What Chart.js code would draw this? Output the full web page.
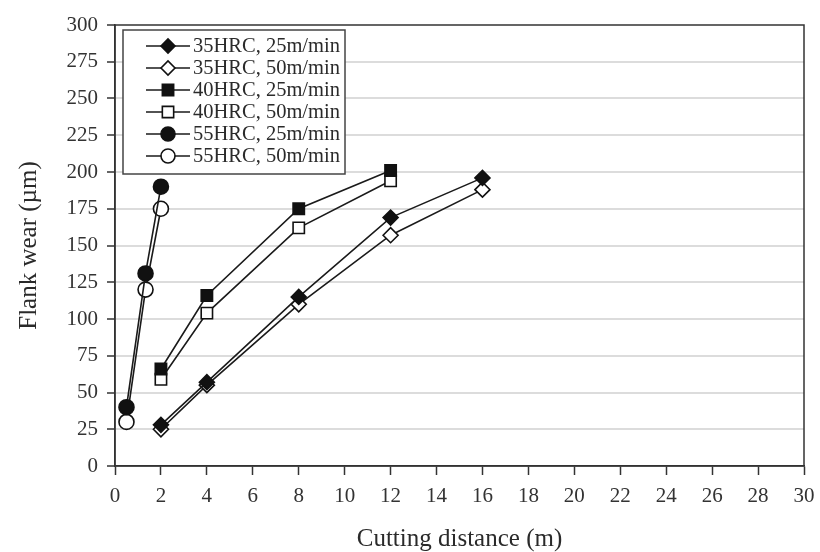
<!DOCTYPE html>
<html>
<head>
<meta charset="utf-8">
<script src="https://cdn.jsdelivr.net/npm/chart.js@4"></script>
<style>
  html, body { margin: 0; padding: 0; background: #fff; }
  #wrap { width: 820px; height: 552px; }
</style>
</head>
<body>
<div id="wrap"><canvas id="wearChart" width="820" height="552"></canvas></div>
<script>
// cutting distance (m) and flank wear (µm) per hardness
const dist35 = [2, 4, 8, 12, 16];
const wear35_25 = [28, 57, 115, 169, 196];
const wear35_50 = [25, 55, 110, 157, 188];

const dist40 = [2, 4, 8, 12];
const wear40_25 = [66, 116, 175, 201];
const wear40_50 = [59, 104, 162, 194];

const dist55 = [0.5, 1.33, 2];
const wear55_25 = [40, 131, 190];
const wear55_50 = [30, 120, 175];

const seriesLabels = [
  '35HRC, 25m/min', '35HRC, 50m/min',
  '40HRC, 25m/min', '40HRC, 50m/min',
  '55HRC, 25m/min', '55HRC, 50m/min'
];

const xTicks = [0, 2, 4, 6, 8, 10, 12, 14, 16, 18, 20, 22, 24, 26, 28, 30];
const yTicks = [0, 25, 50, 75, 100, 125, 150, 175, 200, 225, 250, 275, 300];

const serif = '"Liberation Serif", "DejaVu Serif", serif';

function pts(xs, ys) {
  return xs.map((x, i) => ({ x: x, y: ys[i] }));
}

function series(label, xs, ys, style, filled) {
  const size = style === 'rect' ? 8 : 7.5;
  return {
    label: label,
    data: pts(xs, ys),
    borderColor: '#1a1a1a',
    borderWidth: 1.6,
    pointStyle: style,
    pointRadius: size,
    pointBackgroundColor: filled ? '#111' : '#fff',
    pointBorderColor: '#111',
    pointBorderWidth: 1.6,
    fill: false,
    tension: 0
  };
}

const datasets = [
  series(seriesLabels[0], dist35, wear35_25, 'rectRot', true),
  series(seriesLabels[1], dist35, wear35_50, 'rectRot', false),
  series(seriesLabels[2], dist40, wear40_25, 'rect', true),
  series(seriesLabels[3], dist40, wear40_50, 'rect', false),
  series(seriesLabels[4], dist55, wear55_25, 'circle', true),
  series(seriesLabels[5], dist55, wear55_50, 'circle', false)
];

// frame round the plot and the boxed legend in the upper left
const framePlugin = {
  id: 'frame',
  afterDraw(chart) {
    const ctx = chart.ctx;
    const a = chart.chartArea;
    ctx.save();
    ctx.strokeStyle = '#333';
    ctx.lineWidth = 1.5;
    ctx.strokeRect(a.left, a.top, a.right - a.left, a.bottom - a.top);

    // legend
    const bx = 123, by = 30, bw = 222, bh = 144;
    ctx.fillStyle = '#fff';
    ctx.fillRect(bx, by, bw, bh);
    ctx.strokeStyle = '#444';
    ctx.lineWidth = 1.5;
    ctx.strokeRect(bx, by, bw, bh);
    ctx.font = '20.5px ' + serif;
    ctx.textBaseline = 'middle';
    chart.data.datasets.forEach((ds, i) => {
      const y = 46 + i * 22;
      ctx.strokeStyle = ds.borderColor;
      ctx.lineWidth = 1.6;
      ctx.beginPath();
      ctx.moveTo(146, y);
      ctx.lineTo(190, y);
      ctx.stroke();
      ctx.fillStyle = ds.pointBackgroundColor;
      ctx.strokeStyle = ds.pointBorderColor;
      ctx.lineWidth = ds.pointBorderWidth;
      Chart.helpers.drawPoint(ctx, {
        pointStyle: ds.pointStyle,
        radius: ds.pointRadius - (ds.pointStyle === 'rect' ? 0 : 0.5),
        borderWidth: ds.pointBorderWidth
      }, 168, y);
      ctx.fillStyle = '#2a2a2a';
      ctx.fillText(ds.label, 193, y + 1);
    });
    ctx.restore();
  }
};

new Chart(document.getElementById('wearChart'), {
  type: 'line',
  data: { datasets: datasets },
  options: {
    responsive: false,
    animation: false,
    layout: { padding: { left: 0, right: 16, top: 25, bottom: 0 } },
    plugins: {
      legend: { display: false },
      tooltip: { enabled: false }
    },
    scales: {
      x: {
        type: 'linear',
        min: 0,
        max: 30,
        afterBuildTicks: (s) => { s.ticks = xTicks.map(v => ({ value: v })); },
        afterFit: (s) => { s.height = 86; s.paddingLeft = 0; s.paddingRight = 0; },
        grid: {
          drawOnChartArea: false,
          drawTicks: true,
          tickLength: 9,
          tickColor: '#333',
          tickWidth: 1.5
        },
        border: { display: true, color: '#333', width: 1.5 },
        ticks: {
          color: '#333',
          padding: 9,
          maxRotation: 0,
          autoSkip: false,
          font: { family: serif, size: 21 }
        },
        title: {
          display: true,
          text: 'Cutting distance (m)',
          color: '#2a2a2a',
          font: { family: serif, size: 25, lineHeight: 1 },
          padding: { top: 4, bottom: 0 }
        }
      },
      y: {
        min: 0,
        max: 300,
        afterBuildTicks: (s) => { s.ticks = yTicks.map(v => ({ value: v })); },
        afterFit: (s) => { s.width = 115; s.paddingTop = 0; s.paddingBottom = 0; },
        grid: {
          color: (c) => (c.tick && c.tick.value > 0 && c.tick.value < 300) ? '#dcdcdc' : 'rgba(0,0,0,0)',
          lineWidth: 2,
          drawTicks: true,
          tickLength: 8,
          tickColor: '#333',
          tickWidth: 1.5
        },
        border: { display: true, color: '#333', width: 1.5 },
        ticks: {
          color: '#333',
          padding: 9,
          autoSkip: false,
          font: { family: serif, size: 21 }
        },
        title: {
          display: true,
          text: 'Flank wear (µm)',
          color: '#2a2a2a',
          font: { family: serif, size: 25 },
          padding: { top: 14, bottom: 4 }
        }
      }
    }
  },
  plugins: [framePlugin]
});
</script>
</body>
</html>
